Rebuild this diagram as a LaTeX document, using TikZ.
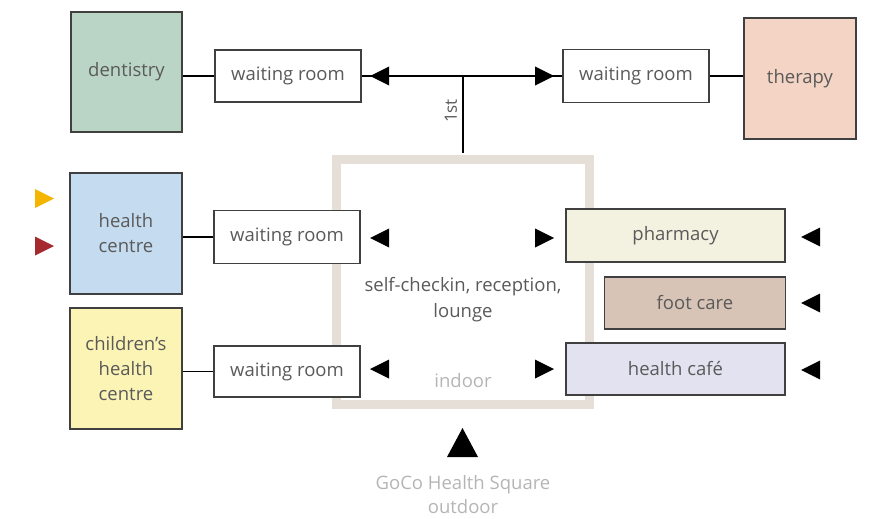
\documentclass[tikz,border=0pt]{standalone}
\usepackage{fontspec}
\setmainfont{Open Sans}
\definecolor{dent}{HTML}{BAD5C6}
\definecolor{ther}{HTML}{F4D4C4}
\definecolor{hc}{HTML}{C5DBEF}
\definecolor{child}{HTML}{FCF4B5}
\definecolor{pharm}{HTML}{F3F1DF}
\definecolor{foot}{HTML}{D8C4B7}
\definecolor{cafe}{HTML}{E3E2F0}
\definecolor{frame}{HTML}{E6DFD8}
\definecolor{txt}{HTML}{5A5A5A}
\definecolor{light}{HTML}{B5B5B5}
\definecolor{edge}{HTML}{404040}
\definecolor{ylw}{HTML}{F5B400}
\definecolor{rd}{HTML}{A52A30}
\newcommand\triL[2]{\fill (#1,#2) -- ++(19,-9.5) -- ++(0,19) -- cycle;}
\newcommand\triR[2]{\fill (#1,#2) -- ++(-19,-9.5) -- ++(0,19) -- cycle;}
\begin{document}
\begin{tikzpicture}[x=1pt,y=-1pt,
  box/.style={draw=edge,line width=1.1pt,inner sep=0pt,text=txt,align=center,
    font=\fontsize{18.5}{25}\selectfont},
  conn/.style={draw=black,line width=1.3pt}]
\useasboundingbox (0,0) rectangle (870,519);
% frame
\draw[line width=9pt,color=frame] (336.5,159.5) rectangle (589.5,404.5);
% nodes
\node[box,fill=dent,minimum width=111pt,minimum height=120pt] (dent) at (126.5,72) {dentistry};
\node[box,fill=white,minimum width=146pt,minimum height=52pt] (wrTL) at (288,76) {waiting room};
\node[box,fill=white,minimum width=146pt,minimum height=53pt] (wrTR) at (636,76) {waiting room};
\node[box,fill=ther,minimum width=112pt,minimum height=121pt] (ther) at (800,78.5) {therapy};
\node[box,fill=hc,minimum width=112pt,minimum height=121pt] (hc) at (126,233.5) {health\\centre};
\node[box,fill=white,minimum width=146pt,minimum height=53pt] (wrML) at (287,237) {waiting room};
\node[box,fill=pharm,minimum width=219pt,minimum height=53pt] (pharm) at (675.5,235.5) {pharmacy};
\node[box,fill=foot,minimum width=181pt,minimum height=52pt] (foot) at (695,303) {foot care};
\node[box,fill=cafe,minimum width=219pt,minimum height=52pt] (cafe) at (675.5,369) {health café};
\node[box,fill=child,minimum width=112pt,minimum height=121pt] (child) at (126,368.5) {children’s\\health\\centre};
\node[box,fill=white,minimum width=146pt,minimum height=51pt] (wrBL) at (287,371.5) {waiting room};
% connectors
\coordinate (J) at (463,76);
\coordinate (F) at (463,153);
\draw[conn] (dent.east |- wrTL.west) -- (wrTL.west);
\draw[conn] (wrTR.east) -- (wrTR.east -| ther.west);
\draw[conn] (hc.east |- wrML.west) -- (wrML.west);
\draw[conn] (child.east |- wrBL.west) -- (wrBL.west);
\draw[conn] (wrTL.east) -- (J) -- (wrTR.west);
\draw[conn] (J) -- (F);
\node[text=txt,rotate=90,font=\fontsize{17}{18}\selectfont] (first) at (451,111) {1st};
% markers
\triL{370}{76}
\triR{554}{76}
\triL{370}{238}
\triR{554}{238}
\triL{370}{369}
\triR{554}{369}
\triL{801}{237}
\triL{801}{303}
\triL{801}{370}
\fill[ylw] (54,198.5) -- ++(-19,-9.5) -- ++(0,19) -- cycle;
\fill[rd] (54,246) -- ++(-19,-9.5) -- ++(0,19) -- cycle;
\fill (447,457) -- (478,457) -- (462.5,428) -- cycle;
% texts
\node[text=txt,align=center,font=\fontsize{18.5}{26}\selectfont] (lobby) at (463,300) {self-checkin, reception,\\lounge};
\node[text=light,font=\fontsize{18.5}{22}\selectfont] (indoor) at (463,381) {indoor};
\node[text=light,align=center,font=\fontsize{18.5}{24}\selectfont] (out) at (463,495) {GoCo Health Square\\outdoor};
\end{tikzpicture}
\end{document}
